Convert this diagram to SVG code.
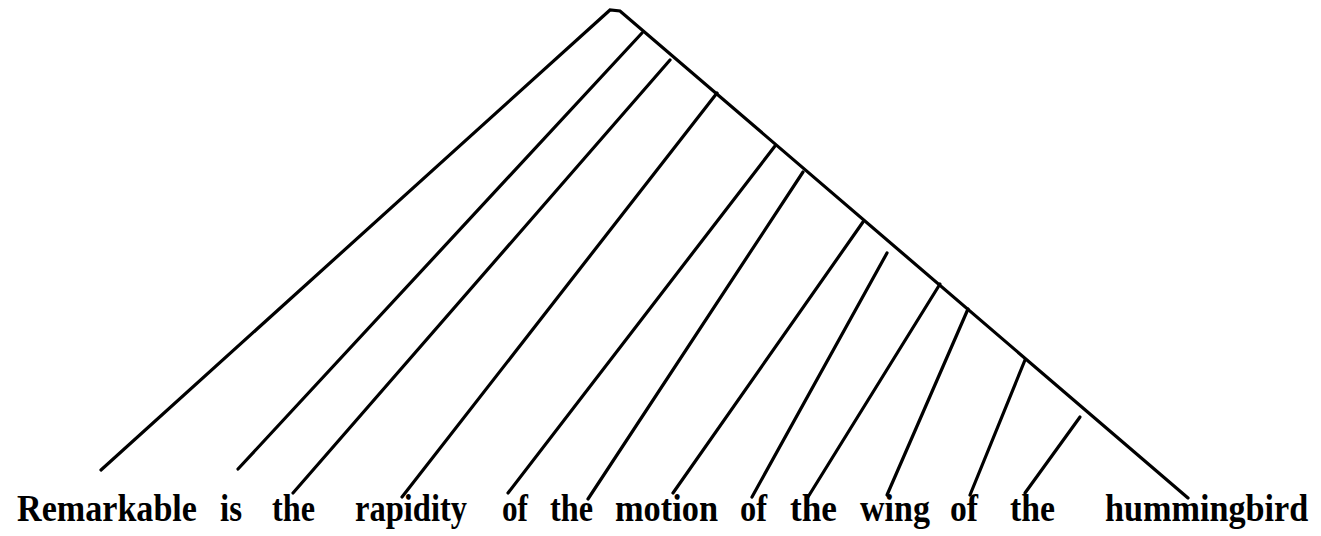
<svg xmlns="http://www.w3.org/2000/svg" width="1321" height="536" viewBox="0 0 1321 536">
<style>
.w{font-family:"Liberation Serif","Times New Roman",serif;font-weight:bold;font-size:38px;fill:#000}
.c line,.c polyline{stroke:#000;stroke-width:3.2;stroke-linecap:round;fill:none}
</style>
<rect width="1321" height="536" fill="#fff"/>
<g class="c" id="connectors">
<polyline points="101,470 610,10 620,11 1188,498"/>
<line x1="642" y1="33" x2="238" y2="469"/>
<line x1="670" y1="60" x2="293" y2="493"/>
<line x1="717" y1="93" x2="402" y2="497"/>
<line x1="775" y1="146" x2="508" y2="493"/>
<line x1="803" y1="172" x2="588" y2="499"/>
<line x1="863" y1="222" x2="673" y2="493"/>
<line x1="887" y1="253" x2="752" y2="497"/>
<line x1="940" y1="284" x2="808" y2="497"/>
<line x1="968" y1="309" x2="887" y2="495"/>
<line x1="1025" y1="360" x2="970" y2="495"/>
<line x1="1080" y1="417" x2="1025" y2="493"/>
</g>
<g id="n1"><text class="w" x="17" y="521" textLength="180" lengthAdjust="spacingAndGlyphs">Remarkable</text></g>
<g id="n2"><text class="w" x="220" y="521" textLength="22" lengthAdjust="spacingAndGlyphs">is</text></g>
<g id="n3"><text class="w" x="272" y="521" textLength="43" lengthAdjust="spacingAndGlyphs">the</text></g>
<g id="n4"><text class="w" x="355" y="521" textLength="112" lengthAdjust="spacingAndGlyphs">rapidity</text></g>
<g id="n5"><text class="w" x="502" y="521" textLength="26" lengthAdjust="spacingAndGlyphs">of</text></g>
<g id="n6"><text class="w" x="550" y="521" textLength="43" lengthAdjust="spacingAndGlyphs">the</text></g>
<g id="n7"><text class="w" x="615" y="521" textLength="103" lengthAdjust="spacingAndGlyphs">motion</text></g>
<g id="n8"><text class="w" x="740" y="521" textLength="27" lengthAdjust="spacingAndGlyphs">of</text></g>
<g id="n9"><text class="w" x="790" y="521" textLength="47" lengthAdjust="spacingAndGlyphs">the</text></g>
<g id="n10"><text class="w" x="860" y="521" textLength="70" lengthAdjust="spacingAndGlyphs">wing</text></g>
<g id="n11"><text class="w" x="950" y="521" textLength="28" lengthAdjust="spacingAndGlyphs">of</text></g>
<g id="n12"><text class="w" x="1010" y="521" textLength="45" lengthAdjust="spacingAndGlyphs">the</text></g>
<g id="n13" transform="translate(1105,521) scale(0.9,1)"><text class="w" x="0" y="0">hummingbird</text></g>
</svg>
